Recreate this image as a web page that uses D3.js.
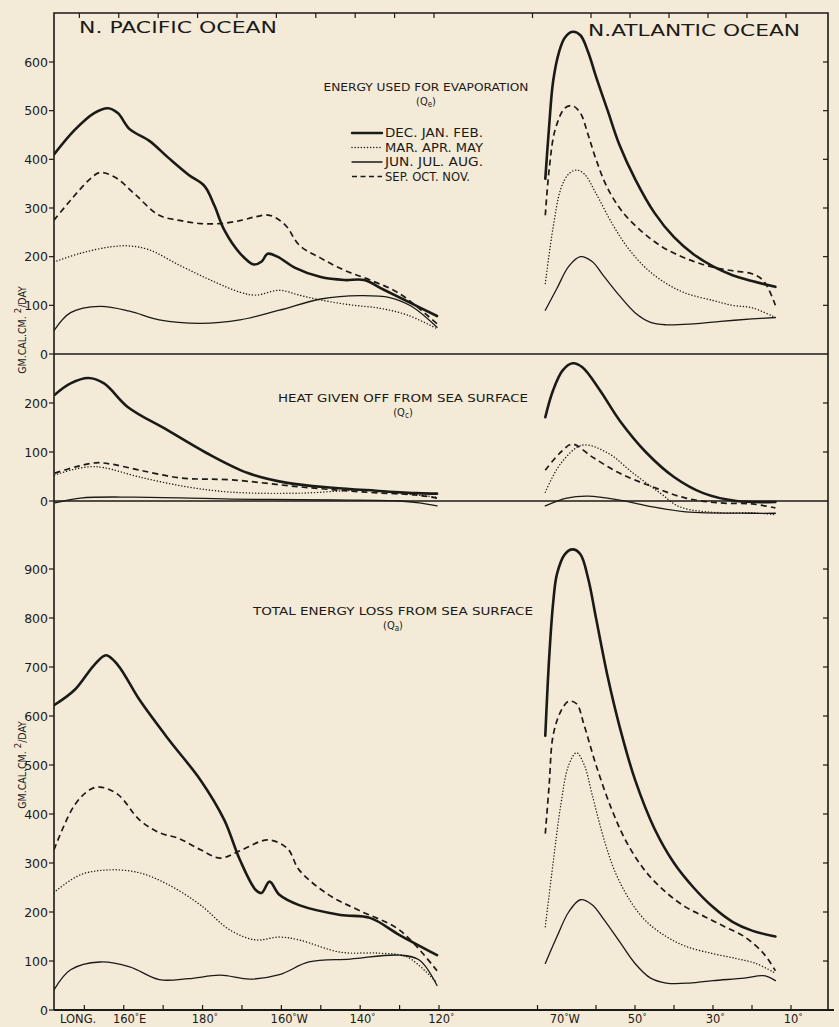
<!DOCTYPE html>
<html>
<head>
<meta charset="utf-8">
<script src="https://cdn.jsdelivr.net/npm/d3@7"></script>
<style>
  body { margin: 0; background: #f3ead7; }
  svg text { fill: #1c1a17; }
</style>
</head>
<body>
<svg id="chart"></svg>
<script>
// Seasonal energy loss from the sea surface along a N. Pacific / N. Atlantic section.
// x = longitude (Pacific in degrees east, 200 = 160W; Atlantic in degrees west), y = gm cal/cm2/day

const W = 839, H = 1027;
const FRAME = { left: 54, right: 828, top: 13, bottom: 1010 };

const SEASONS = ["DJF", "MAM", "JJA", "SON"];
const SEASON_LABELS = ["DEC. JAN. FEB.", "MAR. APR. MAY", "JUN.  JUL. AUG.", "SEP. OCT. NOV."];

// ---- energy used for evaporation (Qe) ----
const evapPacDJF = [[142.3, 410], [147.5, 460], [152.5, 495], [156, 505], [158.5, 495], [161.5, 462], [166.5, 438], [171.5, 402], [176.5, 368], [180.5, 345], [183, 305], [185.5, 255], [189.5, 207], [193, 184], [195, 190], [196.5, 206], [199, 200], [203.5, 177], [210, 158], [216, 152], [221, 152], [226, 132], [232, 108], [239.5, 78]];
const evapPacMAM = [[142.3, 189], [149, 207], [156.5, 220], [161.5, 222], [166.5, 214], [174, 183], [182, 152], [189.5, 127], [193.5, 121], [199.5, 131], [204.5, 121], [210, 111], [217.5, 101], [225, 94], [232, 80], [239.5, 52]];
const evapPacJJA = [[142.3, 48], [146.5, 85], [154, 98], [161.5, 88], [169, 70], [179.5, 63], [189.5, 70], [199.5, 90], [210, 113], [220, 120], [227.5, 116], [233, 98], [239.5, 55]];
const evapPacSON = [[142.3, 275], [146.5, 316], [151.5, 360], [154, 373], [158, 362], [163, 327], [169, 285], [174.5, 274], [179.5, 268], [184.5, 268], [189.5, 274], [193.5, 282], [197, 285], [201, 265], [204.5, 224], [210, 197], [216, 172], [222.5, 152], [230, 124], [239.5, 62]];

const evapAtlDJF = [[73, 360], [72, 470], [71, 560], [69.5, 620], [68, 650], [66, 662], [64, 655], [62, 620], [60, 570], [57, 500], [54, 430], [50, 360], [45, 290], [40, 240], [35, 205], [30, 180], [25, 162], [20, 150], [14, 138]];
const evapAtlMAM = [[73, 145], [71, 260], [69, 340], [67, 370], [65, 378], [63, 370], [60, 330], [56, 270], [52, 220], [47, 175], [42, 145], [37, 125], [30, 110], [25, 100], [20, 95], [14, 75]];
const evapAtlJJA = [[73, 90], [70, 135], [67, 180], [64, 200], [61, 190], [58, 160], [54, 120], [50, 85], [46, 65], [42, 60], [35, 62], [28, 67], [20, 72], [14, 75]];
const evapAtlSON = [[73, 285], [72, 380], [70.5, 460], [68, 505], [66, 510], [64, 495], [62, 450], [60, 400], [57, 340], [53, 290], [48, 250], [43, 220], [38, 200], [33, 185], [28, 175], [24, 170], [20, 165], [17, 150], [14, 100]];

// ---- heat given off from sea surface (Qc) ----
const heatPacDJF = [[142.5, 217], [146.5, 240], [151, 251], [155, 240], [161, 192], [171, 145], [181, 98], [191.5, 57], [201.5, 37], [213, 27], [224, 21], [234.5, 16], [239.5, 15]];
const heatPacMAM = [[142.5, 53], [147, 64], [151.5, 70], [155, 68], [164, 49], [176, 29], [187.5, 18], [204.5, 16], [221.5, 22], [232, 14], [239.5, 8]];
const heatPacJJA = [[142.5, -4], [149, 6], [162.5, 8], [187.5, 4], [213, 2], [230, 0], [235, -4], [239.5, -10]];
const heatPacSON = [[142.5, 57], [148, 70], [153, 78], [157, 75], [164, 63], [174.5, 47], [187.5, 43], [204.5, 29], [221.5, 18], [234.5, 12], [239.5, 6]];

const heatAtlDJF = [[73, 171], [71, 226], [68.5, 267], [66, 281], [63.5, 273], [59, 226], [54, 165], [47, 98], [40, 49], [32.5, 16], [24, 0], [14, -2]];
const heatAtlMAM = [[73, 18], [69, 77], [63.5, 114], [57, 98], [50.5, 57], [43.5, 16], [38.5, -12], [28, -24], [20, -24], [14, -28]];
const heatAtlJJA = [[73, -10], [67.5, 6], [62, 10], [54, 2], [45.5, -12], [37, -22], [20, -25], [14, -25]];
const heatAtlSON = [[73, 63], [69, 100], [66, 116], [61, 90], [54, 57], [45.5, 29], [37, 6], [28, -4], [20, -6], [14, -14]];

// ---- total energy loss from sea surface (Qa) ----
const totalPacDJF = [[142.3, 622], [147.5, 653], [152.5, 704], [155.5, 724], [158.5, 704], [164, 633], [171.5, 551], [179.5, 469], [185.5, 388], [189.5, 306], [193.5, 245], [195, 239], [197, 262], [199.5, 235], [204.5, 214], [215, 194], [222.5, 188], [230, 153], [239.5, 112]];
const totalPacMAM = [[142.3, 240], [149, 276], [156.5, 286], [164, 280], [171.5, 255], [179.5, 214], [187, 163], [193.5, 143], [199.5, 149], [204.5, 143], [215, 118], [225, 116], [232, 108], [239.5, 55]];
const totalPacJJA = [[142.3, 41], [146.5, 82], [154, 98], [161.5, 88], [169, 62], [176.5, 64], [184.5, 71], [192, 63], [199.5, 72], [207, 98], [217.5, 104], [230, 112], [235, 102], [239.5, 50]];
const totalPacSON = [[142.3, 327], [147.5, 418], [151.5, 450], [154, 455], [158.5, 440], [164, 388], [169, 362], [174, 350], [179.5, 327], [184.5, 310], [189.5, 325], [196.5, 347], [201.5, 330], [204.5, 286], [212, 235], [219.5, 204], [230, 163], [239.5, 80]];

const totalAtlDJF = [[73, 560], [72, 720], [71, 830], [70, 890], [68, 930], [66, 940], [64, 930], [62, 880], [60, 800], [57, 680], [54, 580], [50, 470], [45, 370], [40, 300], [35, 250], [30, 210], [25, 180], [20, 162], [14, 150]];
const totalAtlMAM = [[73, 170], [71, 300], [69, 420], [67, 500], [65, 525], [63, 500], [61, 440], [58, 350], [55, 280], [51, 220], [47, 180], [42, 150], [37, 130], [30, 115], [24, 105], [19, 95], [14, 75]];
const totalAtlJJA = [[73, 95], [70, 150], [67, 200], [64, 225], [61, 215], [58, 185], [54, 140], [50, 95], [46, 65], [42, 55], [36, 55], [30, 60], [22, 65], [17, 70], [14, 60]];
const totalAtlSON = [[73, 360], [72, 460], [71, 560], [69, 610], [67, 630], [65, 625], [63, 580], [60, 500], [56, 410], [52, 340], [47, 280], [42, 240], [37, 210], [32, 190], [27, 170], [22, 150], [17, 115], [14, 80]];

// axis ticks
const PAC_TICKS = [150, 160, 170, 180, 190, 200, 210, 220, 230, 240];
const ATL_TICKS = [75, 60, 50, 40, 30, 20, 10];
const LON_LABELS = [
  { ocean: "pac", lon: 160, num: "160", suffix: "°E" },
  { ocean: "pac", lon: 180, num: "180", suffix: "°" },
  { ocean: "pac", lon: 200, num: "160", suffix: "°W" },
  { ocean: "pac", lon: 220, num: "140", suffix: "°" },
  { ocean: "pac", lon: 240, num: "120", suffix: "°" },
  { ocean: "atl", lon: 70, num: "70", suffix: "°W" },
  { ocean: "atl", lon: 50, num: "50", suffix: "°" },
  { ocean: "atl", lon: 30, num: "30", suffix: "°" },
  { ocean: "atl", lon: 10, num: "10", suffix: "°" },
];

const EVAP_TICKS = [0, 100, 200, 300, 400, 500, 600];
const HEAT_TICKS = [0, 100, 200];
const TOTAL_TICKS = [0, 100, 200, 300, 400, 500, 600, 700, 800, 900];

const STYLE = {
  DJF: { width: 2.6, dash: null, cap: "round" },
  MAM: { width: 1.4, dash: "0.1,3", cap: "round" },
  JJA: { width: 1.3, dash: null, cap: "round" },
  SON: { width: 1.7, dash: "6,4", cap: "butt" },
};

const INK = "#1c1a17";

const xPac = d3.scaleLinear().domain([142.3, 240]).range([FRAME.left, 439]);
const xAtl = d3.scaleLinear().domain([70, 0]).range([557, 830]);

const panels = [
  {
    y: d3.scaleLinear().domain([0, 600]).range([354, 62]),
    ticks: EVAP_TICKS,
    pac: { DJF: evapPacDJF, MAM: evapPacMAM, JJA: evapPacJJA, SON: evapPacSON },
    atl: { DJF: evapAtlDJF, MAM: evapAtlMAM, JJA: evapAtlJJA, SON: evapAtlSON },
  },
  {
    y: d3.scaleLinear().domain([0, 200]).range([501, 403]),
    ticks: HEAT_TICKS,
    pac: { DJF: heatPacDJF, MAM: heatPacMAM, JJA: heatPacJJA, SON: heatPacSON },
    atl: { DJF: heatAtlDJF, MAM: heatAtlMAM, JJA: heatAtlJJA, SON: heatAtlSON },
  },
  {
    y: d3.scaleLinear().domain([0, 900]).range([1010, 569]),
    ticks: TOTAL_TICKS,
    pac: { DJF: totalPacDJF, MAM: totalPacMAM, JJA: totalPacJJA, SON: totalPacSON },
    atl: { DJF: totalAtlDJF, MAM: totalAtlMAM, JJA: totalAtlJJA, SON: totalAtlSON },
  },
];

const svg = d3.select("#chart")
  .attr("width", W)
  .attr("height", H)
  .attr("viewBox", `0 0 ${W} ${H}`)
  .style("font-family", "'DejaVu Sans', sans-serif");

svg.append("rect").attr("width", W).attr("height", H).attr("fill", "#f3ead7");

// frame
const frame = svg.append("g").attr("stroke", INK).attr("fill", "none");
frame.append("path")
  .attr("stroke-width", 1.6)
  .attr("d", `M${FRAME.left},${FRAME.bottom}V${FRAME.top}H${FRAME.right}V${FRAME.bottom}`);
frame.append("line")
  .attr("stroke-width", 1.8)
  .attr("x1", FRAME.left).attr("x2", 834)
  .attr("y1", FRAME.bottom).attr("y2", FRAME.bottom);

// zero lines of the two upper panels run full width
[panels[0], panels[1]].forEach((p) => {
  frame.append("line")
    .attr("stroke-width", 1.3)
    .attr("x1", FRAME.left).attr("x2", FRAME.right)
    .attr("y1", p.y(0)).attr("y2", p.y(0));
});

// y ticks and labels
panels.forEach((p) => {
  const g = svg.append("g");
  g.selectAll("line.left")
    .data(p.ticks)
    .join("line")
    .attr("x1", FRAME.left - 5).attr("x2", FRAME.left)
    .attr("y1", (d) => p.y(d)).attr("y2", (d) => p.y(d))
    .attr("stroke", INK).attr("stroke-width", 1.2);
  g.selectAll("line.right")
    .data(p.ticks.filter((d) => d > 0))
    .join("line")
    .attr("x1", FRAME.right - 5).attr("x2", FRAME.right)
    .attr("y1", (d) => p.y(d)).attr("y2", (d) => p.y(d))
    .attr("stroke", INK).attr("stroke-width", 1.2);
  g.selectAll("text")
    .data(p.ticks)
    .join("text")
    .attr("x", FRAME.left - 6)
    .attr("y", (d) => p.y(d) + 4.5)
    .attr("text-anchor", "end")
    .attr("font-size", 12.5)
    .text((d) => d);
});

// x ticks on the bottom axis and top border
const xTicks = PAC_TICKS.map((d) => xPac(d)).concat(ATL_TICKS.map((d) => xAtl(d)));
svg.append("g").selectAll("line")
  .data(xTicks)
  .join("line")
  .attr("x1", (d) => d).attr("x2", (d) => d)
  .attr("y1", FRAME.bottom).attr("y2", FRAME.bottom - 5)
  .attr("stroke", INK).attr("stroke-width", 1.2);
svg.append("g").selectAll("line")
  .data(xTicks)
  .join("line")
  .attr("x1", (d) => d - 5).attr("x2", (d) => d - 5)
  .attr("y1", FRAME.top).attr("y2", FRAME.top + 5)
  .attr("stroke", INK).attr("stroke-width", 1.2);

// longitude labels
svg.append("text")
  .attr("x", 60).attr("y", 1023)
  .attr("font-size", 11.5)
  .text("LONG.");
LON_LABELS.forEach((l) => {
  const x = l.ocean === "pac" ? xPac(l.lon) : xAtl(l.lon);
  const t = svg.append("text")
    .attr("x", x - l.num.length * 3.6)
    .attr("y", 1023)
    .attr("font-size", 11.5);
  t.append("tspan").text(l.num);
  t.append("tspan").attr("font-size", 8).attr("dy", -3).text(l.suffix.slice(0, 1));
  if (l.suffix.length > 1) t.append("tspan").attr("font-size", 11.5).attr("dy", 3).text(l.suffix.slice(1));
});

// curves
const clipId = "plot-clip";
svg.append("clipPath").attr("id", clipId)
  .append("rect")
  .attr("x", FRAME.left).attr("y", FRAME.top)
  .attr("width", FRAME.right - FRAME.left).attr("height", FRAME.bottom - FRAME.top);

const curves = svg.append("g").attr("clip-path", `url(#${clipId})`);
panels.forEach((p) => {
  ["pac", "atl"].forEach((ocean) => {
    const xs = ocean === "pac" ? xPac : xAtl;
    const line = d3.line()
      .x((d) => xs(d[0]))
      .y((d) => p.y(d[1]))
      .curve(d3.curveCatmullRom.alpha(0.5));
    SEASONS.forEach((s) => {
      const st = STYLE[s];
      curves.append("path")
        .datum(p[ocean][s])
        .attr("fill", "none")
        .attr("stroke", INK)
        .attr("stroke-width", st.width)
        .attr("stroke-dasharray", st.dash)
        .attr("stroke-linecap", st.cap)
        .attr("stroke-linejoin", "round")
        .attr("d", line);
    });
  });
});

// ocean titles
svg.append("text")
  .attr("x", 79).attr("y", 33)
  .attr("font-size", 16)
  .attr("textLength", 198).attr("lengthAdjust", "spacingAndGlyphs")
  .text("N. PACIFIC OCEAN");
svg.append("text")
  .attr("x", 588).attr("y", 36)
  .attr("font-size", 16)
  .attr("textLength", 212).attr("lengthAdjust", "spacingAndGlyphs")
  .text("N.ATLANTIC OCEAN");

// panel titles
function panelTitle(cx, cy, label, width, sub) {
  svg.append("text")
    .attr("x", cx - width / 2).attr("y", cy)
    .attr("font-size", 10.5)
    .attr("font-family", "'DejaVu Sans Condensed', 'DejaVu Sans', sans-serif")
    .attr("textLength", width).attr("lengthAdjust", "spacingAndGlyphs")
    .text(label);
  const q = svg.append("text")
    .attr("x", cx).attr("y", cy + 14)
    .attr("text-anchor", "middle")
    .attr("font-size", 11)
    .attr("font-family", "'DejaVu Sans Condensed', 'DejaVu Sans', sans-serif");
  q.append("tspan").text("(Q");
  q.append("tspan").attr("font-size", 8).attr("dy", 2).text(sub);
  q.append("tspan").attr("dy", -2).text(")");
}
panelTitle(426, 91, "ENERGY USED FOR EVAPORATION", 205, "e");
panelTitle(403, 402, "HEAT GIVEN OFF FROM SEA SURFACE", 250, "c");
panelTitle(393, 615, "TOTAL ENERGY LOSS FROM SEA SURFACE", 280, "a");

// legend
const legend = svg.append("g").attr("transform", "translate(352,137)");
SEASONS.forEach((s, i) => {
  const st = STYLE[s];
  const row = legend.append("g").attr("transform", `translate(0,${i * 14.5})`);
  row.append("line")
    .attr("x1", 0).attr("x2", 30)
    .attr("y1", -4).attr("y2", -4)
    .attr("stroke", INK)
    .attr("stroke-width", s === "DJF" ? 2.4 : st.width)
    .attr("stroke-dasharray", s === "SON" ? "5,3.5" : st.dash)
    .attr("stroke-linecap", st.cap);
  row.append("text")
    .attr("x", 33).attr("y", 0)
    .attr("font-size", 11.5)
    .attr("textLength", s === "SON" ? 85 : 98).attr("lengthAdjust", "spacingAndGlyphs")
    .text(SEASON_LABELS[i]);
});

// y-axis labels
function yLabel(cy) {
  const t = svg.append("text")
    .attr("transform", `translate(26,${cy}) rotate(-90)`)
    .attr("text-anchor", "middle")
    .attr("font-size", 10.5)
    .attr("font-family", "'DejaVu Sans Condensed', 'DejaVu Sans', sans-serif");
  t.append("tspan").text("GM.CAL.CM. ");
  t.append("tspan").attr("dy", -5).attr("font-size", 9.5).text("2");
  t.append("tspan").attr("dy", 5).text("/DAY");
}
yLabel(330);
yLabel(765);
</script>
</body>
</html>
